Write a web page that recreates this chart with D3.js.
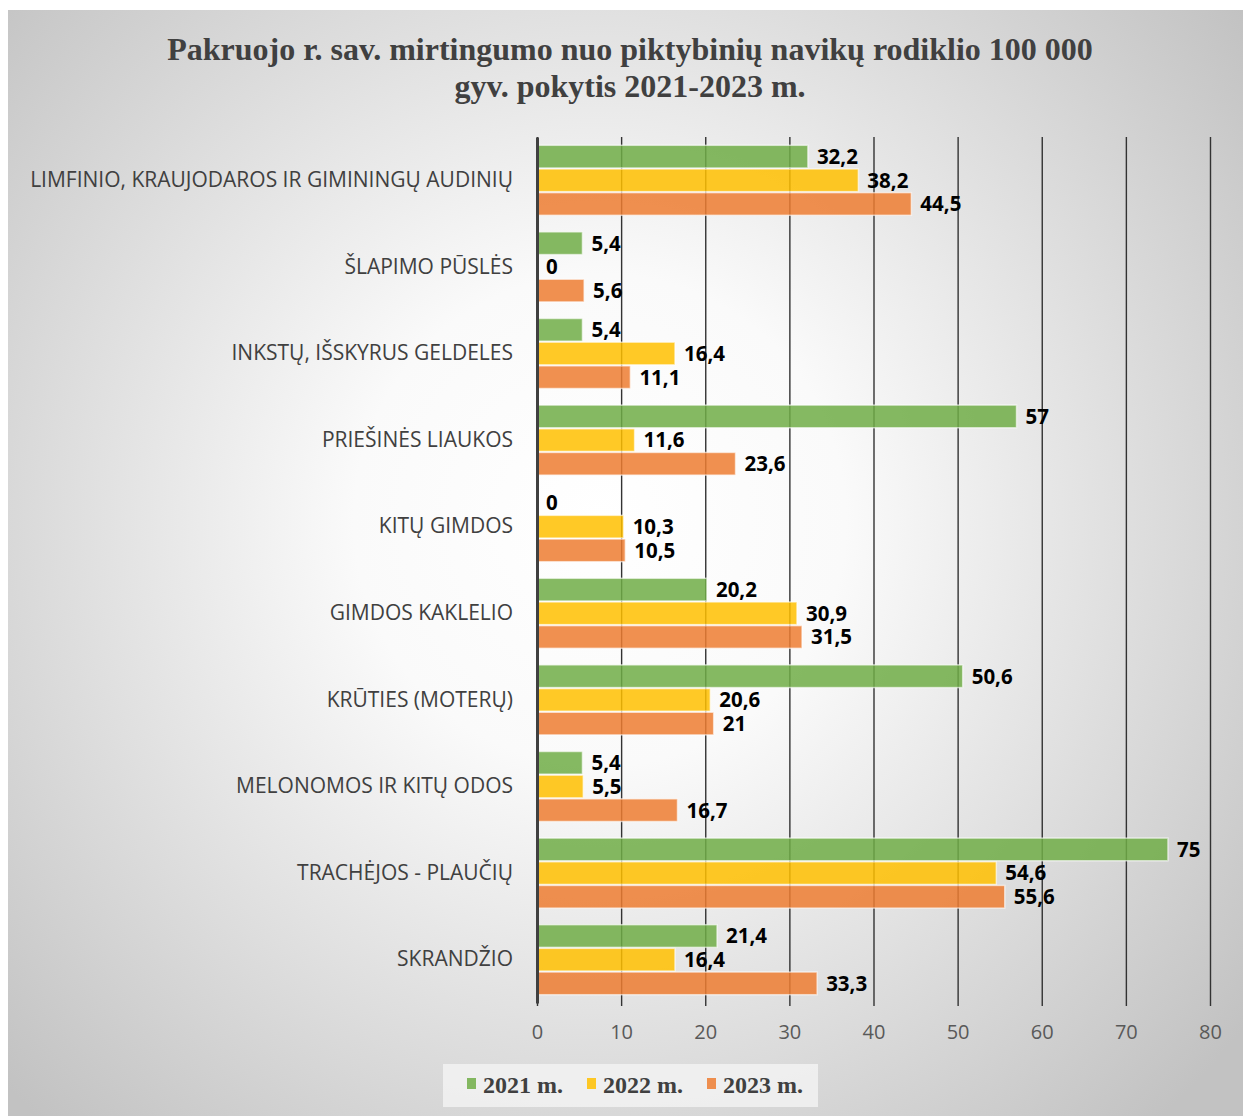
<!DOCTYPE html>
<html><head><meta charset="utf-8">
<script src="https://cdn.jsdelivr.net/npm/d3@7"></script>
<style>html,body{margin:0;padding:0;background:#fff;}</style>
</head><body>
<script>
const categories = ["LIMFINIO, KRAUJODAROS IR GIMININGŲ AUDINIŲ","ŠLAPIMO PŪSLĖS","INKSTŲ, IŠSKYRUS GELDELES","PRIEŠINĖS LIAUKOS","KITŲ GIMDOS","GIMDOS KAKLELIO","KRŪTIES (MOTERŲ)","MELONOMOS IR KITŲ ODOS","TRACHĖJOS - PLAUČIŲ","SKRANDŽIO"];
const seriesNames = ["2021 m.","2022 m.","2023 m."];
const values2021 = [32.2,5.4,5.4,57,0,20.2,50.6,5.4,75,21.4];
const values2022 = [38.2,0,16.4,11.6,10.3,30.9,20.6,5.5,54.6,16.4];
const values2023 = [44.5,5.6,11.1,23.6,10.5,31.5,21,16.7,55.6,33.3];
const xTicks = [0,10,20,30,40,50,60,70,80];
const colors = ["#70AD47","#FFC000","#ED7D31"];
const titleLines = ["Pakruojo r. sav. mirtingumo nuo piktybinių navikų rodiklio 100 000","gyv. pokytis 2021-2023 m."];

const W=1243,H=1116;
const svg=d3.select("body").append("svg").attr("width",W).attr("height",H);
const defs=svg.append("defs");
const rg=defs.append("radialGradient").attr("id","bg").attr("gradientUnits","userSpaceOnUse")
  .attr("cx",600).attr("cy",520).attr("r",820);
rg.append("stop").attr("offset","0").attr("stop-color","#ffffff");
rg.append("stop").attr("offset","0.3").attr("stop-color","#fafafa");
rg.append("stop").attr("offset","1").attr("stop-color","#c2c2c2");
svg.append("rect").attr("x",8).attr("y",10).attr("width",W-8).attr("height",H-10).attr("fill","url(#bg)");

// title
svg.append("g").selectAll("text").data(titleLines).join("text")
  .attr("x",630).attr("y",(d,i)=>60+i*37).attr("text-anchor","middle")
  .attr("font-family","'Liberation Serif','Times New Roman',serif").attr("font-weight","bold")
  .attr("font-size",32).attr("fill","#404040").text(d=>d);

const x=d3.scaleLinear().domain([0,80]).range([537,1210]);
const y=d3.scaleBand().domain(categories).range([137,1003]).paddingInner(0.18).paddingOuter(0.09);
const ys=d3.scaleBand().domain(seriesNames).range([0,y.bandwidth()]);

// gridlines
const xAxis=d3.axisBottom(x).tickValues(xTicks).tickSize(-(1003-137)-0).tickFormat(d=>d).tickPadding(18);
const gx=svg.append("g").attr("transform","translate(0,1003)").call(xAxis);
gx.select(".domain").remove();
gx.selectAll(".tick line").attr("stroke","#333").attr("stroke-width",1.4).attr("y2",-(1003-137)).attr("y1",3);
gx.selectAll(".tick text").attr("font-family","'Open Sans',sans-serif").attr("font-size",20).attr("fill","#595959").attr("dy","0.9em");

// bars
const data=[values2021,values2022,values2023];
const series=svg.append("g").selectAll("g").data(seriesNames).join("g");
series.each(function(s,si){
  const vals=data[si];
  d3.select(this).selectAll("rect").data(categories).join("rect")
    .attr("x",x(0)).attr("y",c=>y(c)+ys(s)+0.5)
    .attr("width",(c,i)=>Math.max(0,x(vals[i])-x(0)))
    .attr("height",ys.bandwidth()-1)
    .attr("fill",colors[si]).attr("fill-opacity",0.85)
    .attr("stroke","#ffffff").attr("stroke-opacity",0.6).attr("stroke-width",1.5);
  d3.select(this).selectAll("text").data(categories).join("text")
    .attr("x",(c,i)=>x(vals[i])+9).attr("y",c=>y(c)+ys(s)+ys.bandwidth()/2)
    .attr("dy","0.36em").attr("font-family","'Open Sans',sans-serif").attr("font-weight","bold")
    .attr("font-size",20.5).attr("fill","#000")
    .text((c,i)=>String(vals[i]).replace(".",","));
});

// left axis
const yAxis=d3.axisLeft(y).tickSize(0).tickPadding(24);
const gy=svg.append("g").attr("transform","translate(537,0)").call(yAxis);
gy.select(".domain").attr("stroke","#404040").attr("stroke-width",3);
gy.selectAll(".tick text").attr("font-family","'Open Sans',sans-serif").attr("font-size",21).attr("fill","#404040");

// legend
const lg=svg.append("g");
lg.append("rect").attr("x",443).attr("y",1064).attr("width",375).attr("height",43).attr("fill","#f2f2f2").attr("fill-opacity",0.85);
const legX=[467,587,707];
const items=lg.selectAll("g").data(seriesNames).join("g").attr("transform",(d,i)=>`translate(${legX[i]},0)`);
items.append("rect").attr("x",0).attr("y",1078).attr("width",9).attr("height",11).attr("fill",(d,i)=>colors[i]).attr("fill-opacity",0.85);
items.append("text").attr("x",16).attr("y",1093).attr("font-family","'Liberation Serif','Times New Roman',serif")
  .attr("font-weight","bold").attr("font-size",24).attr("fill","#404040").text(d=>d);
</script>
</body></html>
